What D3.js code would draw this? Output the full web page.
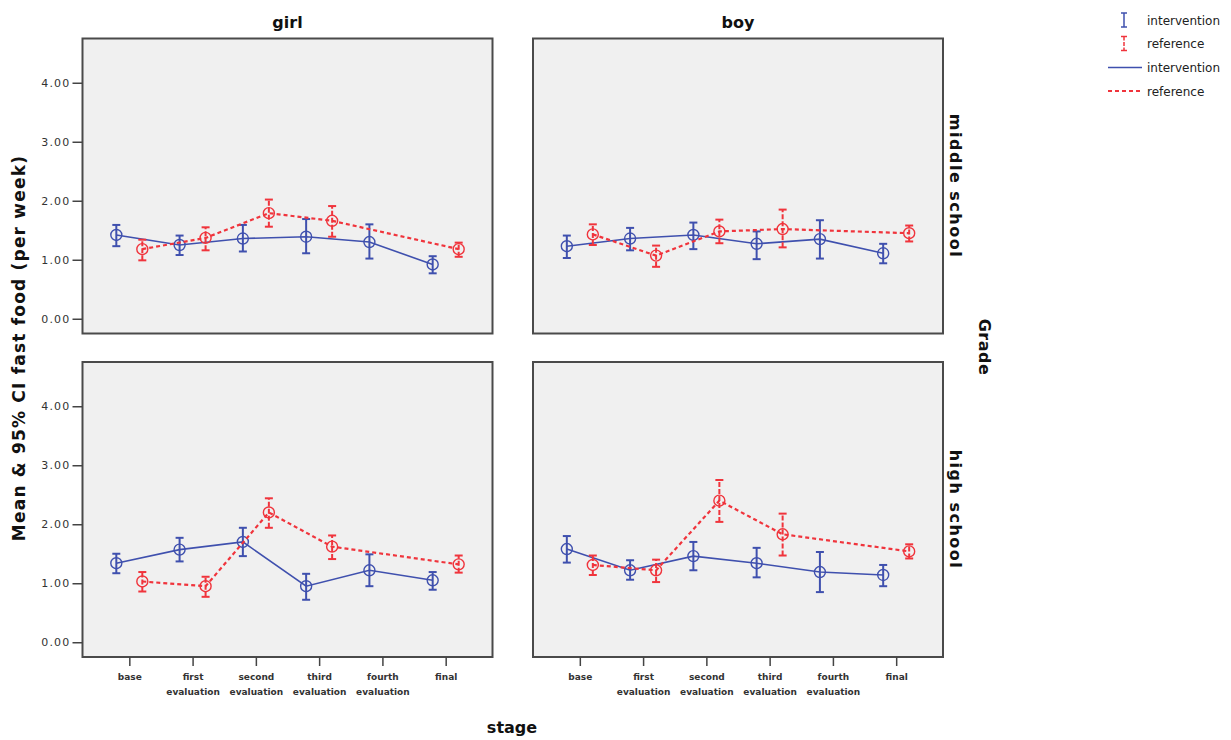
<!DOCTYPE html>
<html>
<head>
<meta charset="utf-8">
<script src="https://cdn.jsdelivr.net/npm/d3@7/dist/d3.min.js"></script>
<style>
  html, body { margin: 0; padding: 0; background: #fff; }
  svg { display: block; }
</style>
</head>
<body>
<svg id="chart" width="1231" height="740"></svg>
<script>
// ---------- DATA ----------
const stages = ["base", "first evaluation", "second evaluation", "third evaluation", "fourth evaluation", "final"];
const genders = ["girl", "boy"];
const grades = ["middle school", "high school"];
const groups = ["intervention", "reference"];
const yTicks = [0, 1, 2, 3, 4];

// girl / middle school
const girlMiddleIntMean = [1.42, 1.25, 1.36, 1.39, 1.30, 0.92];
const girlMiddleIntLo   = [1.23, 1.08, 1.14, 1.11, 1.02, 0.77];
const girlMiddleIntHi   = [1.59, 1.41, 1.59, 1.69, 1.60, 1.06];
const girlMiddleRefMean = [1.18, 1.37, 1.79, 1.66, null, 1.18];
const girlMiddleRefLo   = [0.99, 1.16, 1.56, 1.39, null, 1.05];
const girlMiddleRefHi   = [1.34, 1.55, 2.02, 1.91, null, 1.29];
// boy / middle school
const boyMiddleIntMean = [1.23, 1.36, 1.42, 1.27, 1.35, 1.11];
const boyMiddleIntLo   = [1.03, 1.16, 1.18, 1.01, 1.02, 0.94];
const boyMiddleIntHi   = [1.41, 1.54, 1.63, 1.48, 1.67, 1.27];
const boyMiddleRefMean = [1.43, 1.07, 1.48, 1.52, null, 1.45];
const boyMiddleRefLo   = [1.25, 0.88, 1.28, 1.21, null, 1.31];
const boyMiddleRefHi   = [1.60, 1.24, 1.68, 1.85, null, 1.58];
// girl / high school
const girlHighIntMean = [1.34, 1.57, 1.70, 0.95, 1.22, 1.05];
const girlHighIntLo   = [1.17, 1.37, 1.46, 0.72, 0.95, 0.89];
const girlHighIntHi   = [1.50, 1.77, 1.94, 1.16, 1.49, 1.19];
const girlHighRefMean = [1.03, 0.95, 2.20, 1.62, null, 1.32];
const girlHighRefLo   = [0.86, 0.77, 1.94, 1.41, null, 1.18];
const girlHighRefHi   = [1.19, 1.11, 2.44, 1.81, null, 1.47];
// boy / high school
const boyHighIntMean = [1.58, 1.22, 1.46, 1.34, 1.19, 1.14];
const boyHighIntLo   = [1.35, 1.06, 1.22, 1.10, 0.85, 0.95];
const boyHighIntHi   = [1.80, 1.39, 1.70, 1.60, 1.53, 1.31];
const boyHighRefMean = [1.31, 1.22, 2.40, 1.83, null, 1.54];
const boyHighRefLo   = [1.14, 1.02, 2.04, 1.47, null, 1.42];
const boyHighRefHi   = [1.47, 1.40, 2.75, 2.18, null, 1.66];

const panelData = {
  "girl|middle school": {
    intervention: [girlMiddleIntMean, girlMiddleIntLo, girlMiddleIntHi],
    reference: [girlMiddleRefMean, girlMiddleRefLo, girlMiddleRefHi]
  },
  "boy|middle school": {
    intervention: [boyMiddleIntMean, boyMiddleIntLo, boyMiddleIntHi],
    reference: [boyMiddleRefMean, boyMiddleRefLo, boyMiddleRefHi]
  },
  "girl|high school": {
    intervention: [girlHighIntMean, girlHighIntLo, girlHighIntHi],
    reference: [girlHighRefMean, girlHighRefLo, girlHighRefHi]
  },
  "boy|high school": {
    intervention: [boyHighIntMean, boyHighIntLo, boyHighIntHi],
    reference: [boyHighRefMean, boyHighRefLo, boyHighRefHi]
  }
};

// ---------- LAYOUT / STYLE ----------
const colX = [82.5, 533];
const rowY = [38.5, 362];
const panelW = 410, panelH = 295;
const colors = { intervention: "#3f50ae", reference: "#f0343c" };
const dodge = { intervention: -13, reference: 13 };
const FONT = "DejaVu Sans, Verdana, sans-serif";

const svg = d3.select("#chart");

const x = d3.scalePoint().domain(stages).range([0, panelW]).padding(0.74);
const y = d3.scaleLinear().domain([-0.25, 4.75]).range([panelH, 0]);

grades.forEach((grade, ri) => {
  genders.forEach((gender, ci) => {
    const g = svg.append("g").attr("transform", `translate(${colX[ci]},${rowY[ri]})`);
    g.append("rect").attr("x", 0).attr("y", 0).attr("width", panelW).attr("height", panelH)
      .attr("fill", "#f0f0f0").attr("stroke", "#4a4a4a").attr("stroke-width", 2);

    // y axis on left column
    if (ci === 0) {
      const ya = d3.axisLeft(y).tickValues(yTicks).tickFormat(d3.format(".2f")).tickSize(10).tickPadding(2);
      const ag = g.append("g").call(ya);
      ag.select(".domain").remove();
      ag.selectAll(".tick line").attr("stroke", "#444").attr("stroke-width", 1.5);
      ag.selectAll(".tick text").attr("font-family", FONT).attr("font-size", 11)
        .attr("letter-spacing", 1.2).attr("fill", "#333");
    }
    // x axis on bottom row
    if (ri === 1) {
      const xa = d3.axisBottom(x).tickSize(9).tickFormat("");
      const ag = g.append("g").attr("transform", `translate(0,${panelH})`).call(xa);
      ag.select(".domain").remove();
      ag.selectAll(".tick line").attr("stroke", "#444").attr("stroke-width", 1.5);
      ag.selectAll(".tick").each(function (d) {
        const parts = d.split(" ");
        const t = d3.select(this).append("text").attr("text-anchor", "middle")
          .attr("font-family", FONT).attr("font-size", 9).attr("font-weight", "bold").attr("fill", "#333");
        parts.forEach((p, i) => t.append("tspan").attr("x", 0).attr("y", 22.5 + i * 15.5).text(p));
      });
    }

    const pd = panelData[`${gender}|${grade}`];
    groups.forEach(grp => {
      const [mean, lo, hi] = pd[grp];
      const pts = stages.map((s, i) => ({ s, m: mean[i], lo: lo[i], hi: hi[i] })).filter(d => d.m != null);
      const px = d => x(d.s) + dodge[grp];
      const col = colors[grp];
      const line = d3.line().x(px).y(d => y(d.m));
      g.append("path").datum(pts).attr("d", line).attr("fill", "none").attr("stroke", col)
        .attr("stroke-width", grp === "intervention" ? 1.6 : 2.2)
        .attr("stroke-dasharray", grp === "reference" ? "4,3" : null);
      // error bars
      const eb = g.append("g").selectAll("g").data(pts).join("g");
      eb.append("line").attr("x1", px).attr("x2", px).attr("y1", d => y(d.lo)).attr("y2", d => y(d.hi))
        .attr("stroke", col).attr("stroke-width", 2)
        .attr("stroke-dasharray", grp === "reference" ? "5,2" : null);
      ["lo", "hi"].forEach(k => {
        eb.append("line").attr("x1", d => px(d) - 4).attr("x2", d => px(d) + 4)
          .attr("y1", d => y(d[k])).attr("y2", d => y(d[k])).attr("stroke", col).attr("stroke-width", 2);
      });
      eb.append("circle").attr("cx", px).attr("cy", d => y(d.m)).attr("r", 5.5)
        .attr("fill", "none").attr("stroke", col).attr("stroke-width", 1.4);
    });
  });
});

// column titles
genders.forEach((gender, ci) => {
  svg.append("text").attr("x", colX[ci] + panelW / 2).attr("y", 28).attr("text-anchor", "middle")
    .attr("font-family", FONT).attr("font-size", 16).attr("font-weight", "bold").attr("fill", "#111").text(gender);
});
// row labels
grades.forEach((grade, ri) => {
  svg.append("text").attr("transform", `translate(950,${rowY[ri] + panelH / 2}) rotate(90)`)
    .attr("text-anchor", "middle").attr("font-family", FONT).attr("font-size", 16).attr("font-weight", "bold")
    .attr("letter-spacing", 1.5).attr("fill", "#111").text(grade);
});
svg.append("text").attr("transform", `translate(979,347) rotate(90)`)
  .attr("text-anchor", "middle").attr("font-family", FONT).attr("font-size", 16).attr("font-weight", "bold")
  .attr("letter-spacing", 0.5).attr("fill", "#111").text("Grade");

// axis titles
svg.append("text").attr("transform", `translate(25,348) rotate(-90)`).attr("text-anchor", "middle")
  .attr("font-family", FONT).attr("font-size", 17).attr("font-weight", "bold").attr("letter-spacing", 1.2)
  .attr("fill", "#111").text("Mean & 95% CI fast food (per week)");
svg.append("text").attr("x", 512).attr("y", 733).attr("text-anchor", "middle")
  .attr("font-family", FONT).attr("font-size", 16).attr("font-weight", "bold").attr("fill", "#111").text("stage");

// legend
const leg = svg.append("g");
const legRows = [
  { type: "bar", grp: "intervention", cy: 20 },
  { type: "bar", grp: "reference", cy: 43.5 },
  { type: "line", grp: "intervention", cy: 67.5 },
  { type: "line", grp: "reference", cy: 91 }
];
legRows.forEach(r => {
  const col = colors[r.grp];
  if (r.type === "bar") {
    leg.append("line").attr("x1", 1124).attr("x2", 1124).attr("y1", r.cy - 7).attr("y2", r.cy + 7)
      .attr("stroke", col).attr("stroke-width", 1.5).attr("stroke-dasharray", r.grp === "reference" ? "4,1.5" : null);
    [-7, 7].forEach(o => leg.append("line").attr("x1", 1121).attr("x2", 1127)
      .attr("y1", r.cy + o).attr("y2", r.cy + o).attr("stroke", col).attr("stroke-width", 1.5));
  } else {
    leg.append("line").attr("x1", 1108).attr("x2", 1142).attr("y1", r.cy).attr("y2", r.cy)
      .attr("stroke", col).attr("stroke-width", r.grp === "reference" ? 2 : 1.6)
      .attr("stroke-dasharray", r.grp === "reference" ? "4,3" : null);
  }
  leg.append("text").attr("x", 1147).attr("y", r.cy + 4.5).attr("font-family", FONT).attr("font-size", 12)
    .attr("fill", "#222").text(r.grp);
});
</script>
</body>
</html>
